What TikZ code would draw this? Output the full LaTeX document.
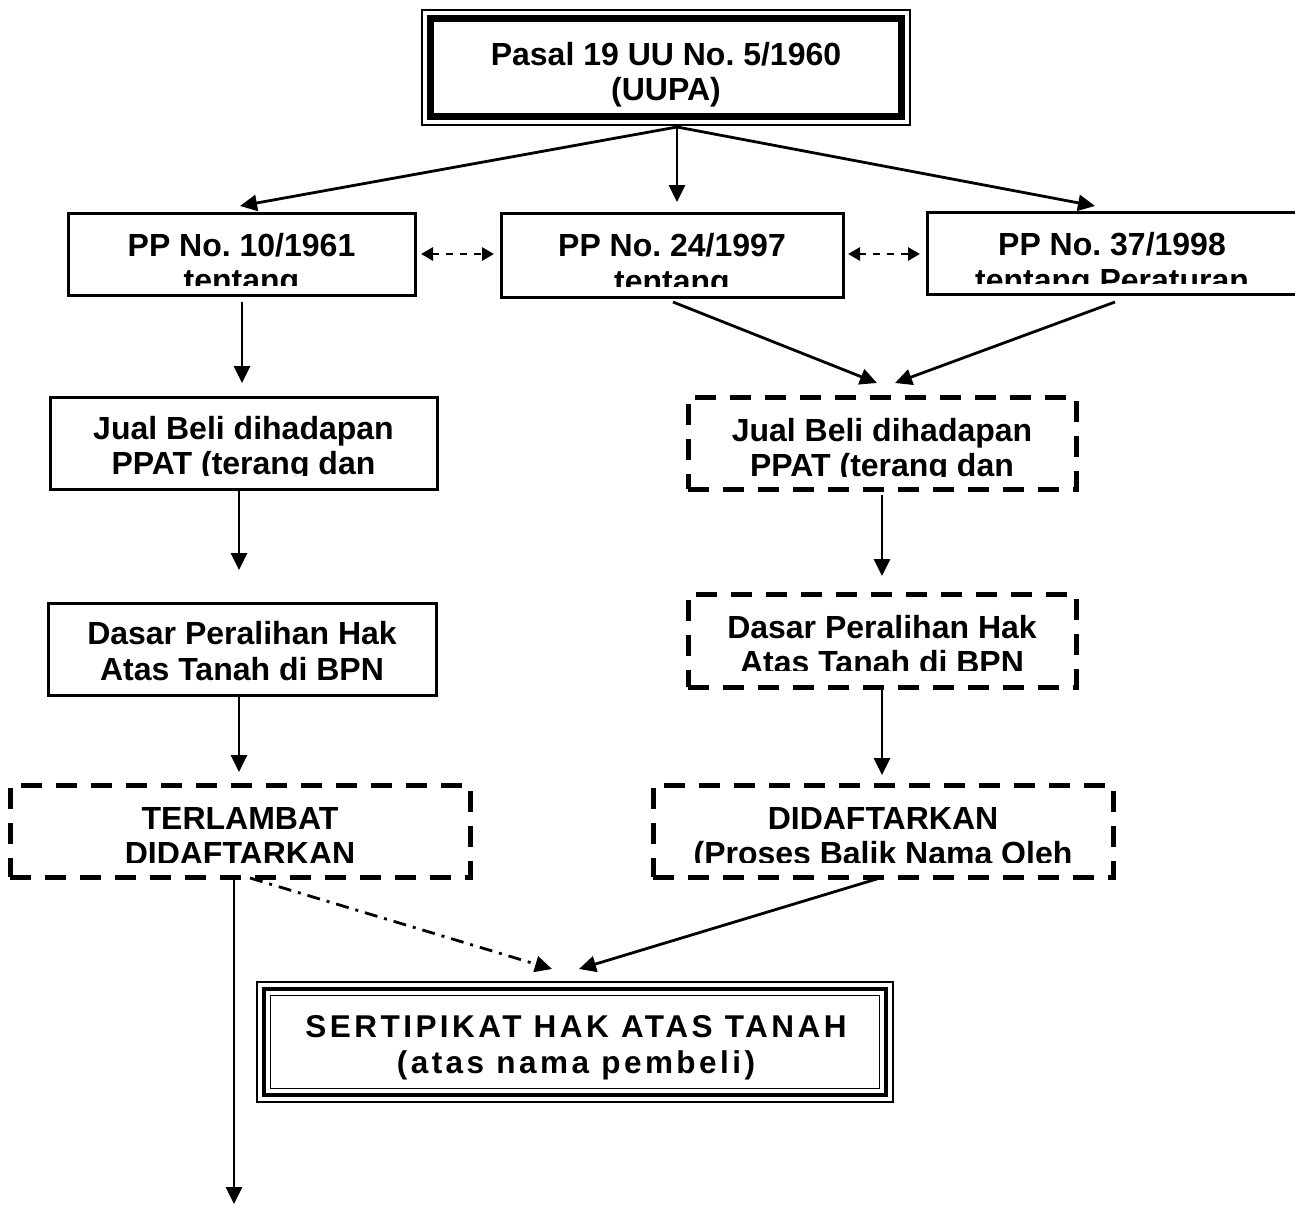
\documentclass[tikz,border=0pt]{standalone}
\usepackage{fontspec}
\setmainfont{Liberation Sans}
\usetikzlibrary{arrows.meta}
\begin{document}
\begin{tikzpicture}[x=1pt,y=-1pt,
  txt/.style={font=\fontsize{32}{36}\selectfont\bfseries\frenchspacing, inner sep=0pt, anchor=base},
  sptxt/.style={font=\fontsize{31.5}{36}\selectfont\bfseries\frenchspacing\addfontfeature{LetterSpace=11}, inner sep=0pt, anchor=base},
  solidbox/.style={draw, line width=3pt, inner sep=0pt, outer sep=0pt},
  dashbox/.style={draw, line width=5pt, dash pattern=on 21pt off 14pt, inner sep=0pt, outer sep=0pt},
  thinline/.style={draw, line width=1.5pt, inner sep=0pt, outer sep=0pt},
  arr/.style={line width=2.8pt, -{Triangle[length=17pt,width=16pt]}},
  darr/.style={line width=2.8pt, dash pattern=on 7pt off 7pt, {Triangle[length=12pt,width=13pt]}-{Triangle[length=12pt,width=13pt]}},
  ddarr/.style={line width=2.8pt, dash pattern=on 13pt off 7pt on 3pt off 7pt, -{Triangle[length=17pt,width=16pt]}},
]
\useasboundingbox (0,0) rectangle (1295,1205);
\clip (0,0) rectangle (1295,1205);

% ---------- top box ----------
\node[thinline, minimum width=488pt, minimum height=115pt] (top) at (666,67.5) {};
\node[draw, line width=7pt, inner sep=0pt, outer sep=0pt, minimum width=471pt, minimum height=98pt] (topin) at (666,67.5) {};
\node[txt] (toptxta) at (666,65) {Pasal 19 UU No. 5/1960};
\node[txt] (toptxtb) at (666,100) {(UUPA)};

% ---------- PP boxes ----------
\node[solidbox, minimum width=347pt, minimum height=82pt] (b1) at (241.5,254) {};
\begin{scope}
\clip (70,215) rectangle (413,285);
\node[txt] (b1a) at (241.5,256) {PP No. 10/1961};
\node[txt] (b1b) at (241.5,291.5) {tentang};
\end{scope}

\node[solidbox, minimum width=342pt, minimum height=84pt] (b2) at (672,255) {};
\begin{scope}
\clip (503,215) rectangle (841,286);
\node[txt] (b2a) at (672,256.5) {PP No. 24/1997};
\node[txt] (b2b) at (672,292) {tentang};
\end{scope}

\node[solidbox, minimum width=370pt, minimum height=82pt] (b3) at (1112,253) {};
\begin{scope}
\clip (929,214) rectangle (1295,283);
\node[txt] (b3a) at (1112,255.5) {PP No. 37/1998};
\node[txt] (b3b) at (1112,291) {tentang Peraturan};
\end{scope}

% ---------- left column ----------
\node[solidbox, minimum width=387pt, minimum height=92pt] (jl) at (243.5,443) {};
\begin{scope}
\clip (52,399) rectangle (435,475);
\node[txt] (jla) at (243.5,439) {Jual Beli dihadapan};
\node[txt] (jlb) at (243.5,474.5) {PPAT (terang dan};
\end{scope}

\node[solidbox, minimum width=388pt, minimum height=92pt] (dl) at (242,649) {};
\begin{scope}
\clip (50,605) rectangle (434,690);
\node[txt] (dla) at (242,644) {Dasar Peralihan Hak};
\node[txt] (dlb) at (242,680) {Atas Tanah di BPN};
\end{scope}

\node[dashbox, minimum width=460pt, minimum height=92pt] (tl) at (240,831) {};
\begin{scope}
\clip (13,788) rectangle (467,862);
\node[txt] (tla) at (240,829) {TERLAMBAT};
\node[txt] (tlb) at (240,864.5) {DIDAFTARKAN};
\end{scope}

% ---------- right column ----------
\node[dashbox, minimum width=388pt, minimum height=92pt] (jr) at (882,443) {};
\begin{scope}
\clip (691,400) rectangle (1073,476);
\node[txt] (jra) at (882,441) {Jual Beli dihadapan};
\node[txt] (jrb) at (882,476.5) {PPAT (terang dan};
\end{scope}

\node[dashbox, minimum width=388pt, minimum height=93pt] (dr) at (882,640.5) {};
\begin{scope}
\clip (691,597) rectangle (1073,670);
\node[txt] (dra) at (882,638) {Dasar Peralihan Hak};
\node[txt] (drb) at (882,673.5) {Atas Tanah di BPN};
\end{scope}

\node[dashbox, minimum width=460pt, minimum height=92pt] (tr) at (883,831) {};
\begin{scope}
\clip (656,788) rectangle (1110,862);
\node[txt] (tra) at (883,829) {DIDAFTARKAN};
\node[txt] (trb) at (883,864.5) {(Proses Balik Nama Oleh};
\end{scope}

% ---------- certificate box ----------
\node[thinline, minimum width=636pt, minimum height=120pt] (sert) at (575,1042) {};
\node[draw, line width=4.5pt, inner sep=0pt, outer sep=0pt, minimum width=622pt, minimum height=106pt] (sertmid) at (575,1042) {};
\node[thinline, minimum width=609pt, minimum height=93pt] (sertin) at (575,1042) {};
\node[sptxt] (serta) at (576,1037) {SERTIPIKAT HAK ATAS TANAH};
\node[sptxt] (sertb) at (576,1073) {(atas nama pembeli)};

% ---------- connector end points ----------
\coordinate (o) at (677,127);
\coordinate (e1) at (240,206);
\coordinate (e2) at (677,202);
\coordinate (e3) at (1095,206);
\coordinate (d1s) at (421,254);
\coordinate (d1e) at (494,254);
\coordinate (d2s) at (848,254);
\coordinate (d2e) at (920,254);
\coordinate (jlin) at (242,383);
\coordinate (b1out) at (242,302);
\coordinate (jlout) at (239,489);
\coordinate (dlin) at (239,570);
\coordinate (dlout) at (239,695);
\coordinate (tlin) at (239,772);
\coordinate (b2out) at (673,302);
\coordinate (b3out) at (1115,302);
\coordinate (jrinA) at (877,383);
\coordinate (jrinB) at (895,383);
\coordinate (jrout) at (882,495);
\coordinate (drin) at (882,576);
\coordinate (drout) at (882,687);
\coordinate (trin) at (882,775);
\coordinate (tlout) at (234,878);
\coordinate (tlend) at (234,1204);
\coordinate (tldd) at (250,878);
\coordinate (sertinA) at (552,969);
\coordinate (trout) at (880,878);
\coordinate (sertinB) at (579,969);

% ---------- connectors ----------
\draw[arr] (o) -- (e1);
\draw[arr] (o) -- (e2);
\draw[arr] (o) -- (e3);
\draw[darr] (d1s) -- (d1e);
\draw[darr] (d2s) -- (d2e);
\draw[arr] (b1out) -- (jlin);
\draw[arr] (jlout) -- (dlin);
\draw[arr] (dlout) -- (tlin);
\draw[arr] (tlout) -- (tlend);
\draw[ddarr] (tldd) -- (sertinA);
\draw[arr] (b2out) -- (jrinA);
\draw[arr] (b3out) -- (jrinB);
\draw[arr] (jrout) -- (drin);
\draw[arr] (drout) -- (trin);
\draw[arr] (trout) -- (sertinB);
\end{tikzpicture}
\end{document}
